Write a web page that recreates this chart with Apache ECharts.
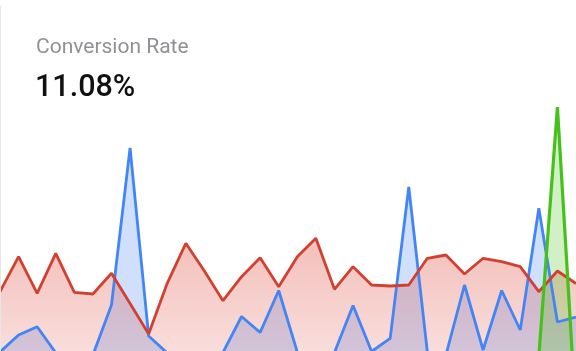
<!DOCTYPE html>
<html>
<head>
<meta charset="utf-8">
<style>
  html, body { margin: 0; padding: 0; background: #fff; overflow: hidden; }
  #wrap { position: relative; width: 576px; height: 351px; overflow: hidden; }
  #card { position: absolute; left: 0; top: 4px; width: 600px; height: 400px; border-left: 1px solid #e6e6e6; border-top-left-radius: 4px; box-sizing: border-box; pointer-events: none; z-index: 2; }
  #chart { position: absolute; left: 0; top: 0; width: 576px; height: 351px; }
</style>
<script src="https://cdn.jsdelivr.net/npm/echarts@6/dist/echarts.min.js"></script>
</head>
<body>
<div id="wrap">
  <div id="chart"></div>
  <div id="card"></div>
</div>
<script>
// Title texts
const titleText = 'Conversion Rate';
const valueText = '11.08%';

// Categories (32 time buckets)
const categories = Array.from({length: 32}, (_, i) => 'P' + (i + 1));

// Series values (conversion rate, %)
const blueValues = [6.9, 8.6, 9.43, 6.82, 5.6, 6.6, 11.6, 27.3, 8.5, 6.8, 5.1, 5.3, 6.85, 10.45, 8.85, 13.05,
                    6.9, 5.6, 6.85, 11.55, 6.95, 8.27, 23.4, 6.9, 6.6, 13.6, 7.1, 13.05, 9.1, 21.27, 9.9, 10.4];
const redValues  = [12.93, 16.43, 12.77, 16.77, 12.87, 12.7, 14.77, 11.75, 8.7, 13.77, 17.77, 15.0, 12.03, 14.43, 16.33, 13.43,
                    16.43, 18.27, 13.17, 15.43, 13.6, 13.5, 13.6, 16.27, 16.6, 14.7, 16.27, 15.93, 15.43, 12.93, 15.0, 13.75];
const greenValues = [0, 0, 0, 0, 0, 0, 0, 0, 0, 0, 0, 0, 0, 0, 0, 0,
                     0, 0, 0, 0, 0, 0, 0, 0, 0, 0, 0, 0, 0, 6.5, 31.4, 0.4];

// Visible value range of the value axis
const yMin = 7.0;
const yMax = 42.1;

const chart = echarts.init(document.getElementById('chart'), null, {renderer: 'canvas'});

function areaSeries(name, data, lineColor, lineWidth, fill) {
  return {
    name: name,
    type: 'line',
    data: data,
    symbol: 'none',
    smooth: false,
    lineStyle: { color: lineColor, width: lineWidth },
    itemStyle: { color: lineColor },
    areaStyle: { color: fill, opacity: 1 },
    emphasis: { disabled: true },
    silent: true
  };
}

chart.setOption({
  animation: false,
  backgroundColor: '#ffffff',
  grid: { left: 0, right: -2, top: 0, bottom: 0, containLabel: false },
  xAxis: {
    type: 'category',
    data: categories,
    boundaryGap: false,
    show: false
  },
  yAxis: {
    type: 'value',
    min: yMin,
    max: yMax,
    show: false,
    splitLine: { show: false }
  },
  graphic: [
    {
      type: 'text',
      left: 36,
      top: 37.5,
      style: {
        text: titleText,
        font: '400 21px Roboto',
        fill: '#8e9195'
      }
    },
    {
      type: 'text',
      left: 35,
      top: 73,
      style: {
        text: valueText,
        font: '500 30.5px Roboto',
        fill: '#111111'
      }
    }
  ],
  series: [
    areaSeries('Blue', blueValues, '#4285f4', 2.8, 'rgba(66,133,244,0.25)'),
    areaSeries('Red', redValues, '#d2402f', 2.8, new echarts.graphic.LinearGradient(0, 0, 0, 1, [
      { offset: 0, color: 'rgba(219,68,55,0.34)' },
      { offset: 1, color: 'rgba(219,68,55,0.18)' }
    ])),
    areaSeries('Green', greenValues, '#45c21a', 3.2, 'rgba(72,194,29,0.25)')
  ]
});
</script>
</body>
</html>
